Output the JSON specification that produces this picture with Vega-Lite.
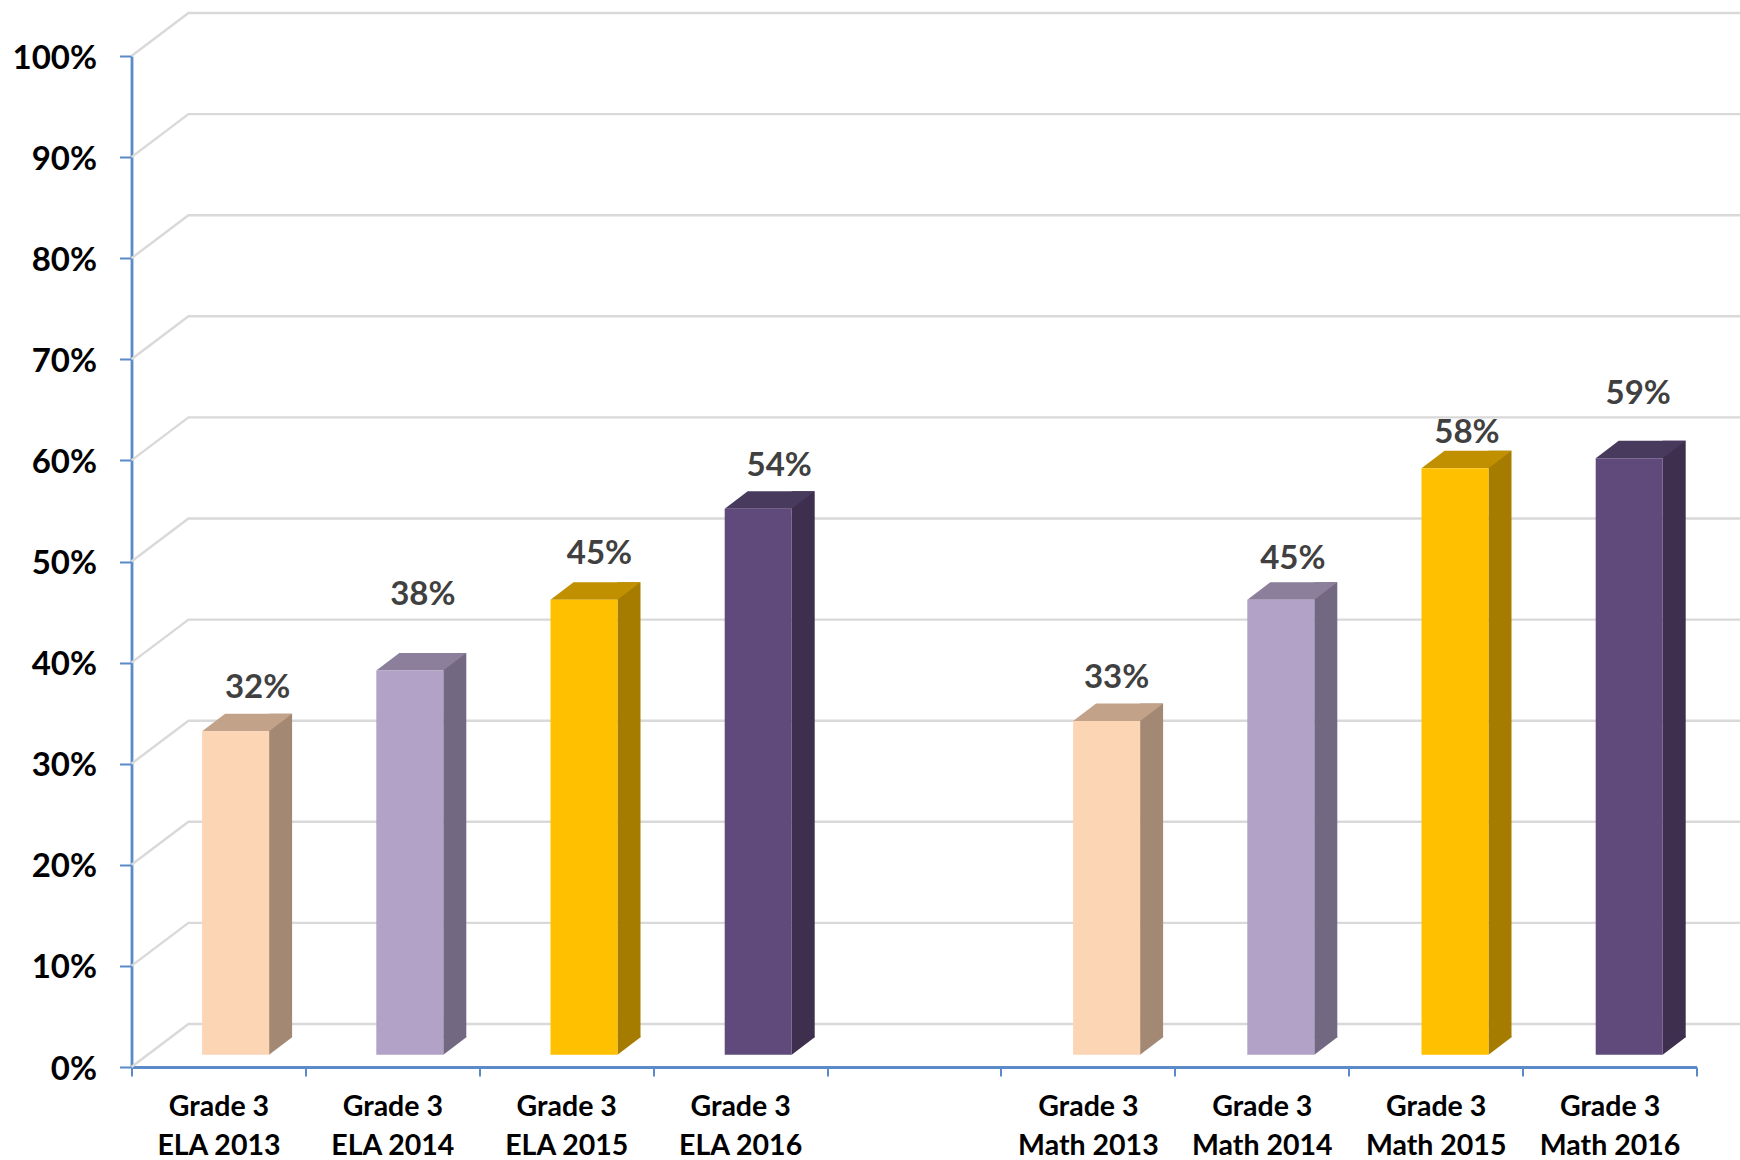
{
"$schema":"https://vega.github.io/schema/vega-lite/v6.json",
"width":1565,"height":1011,
"padding":{"left":131.5,"top":56,"right":43.5,"bottom":93},
"autosize":{"type":"none"},
"background":"white",
"config":{"view":{"stroke":null},"axis":{"labelFont":"Lato","labelFontWeight":"bold","labelColor":"#000000","labelFontSize":33,"domainColor":"#5B8AC8","tickColor":"#5B8AC8","domainWidth":2.8,"tickWidth":2,"grid":false,"title":null}},
"datasets":{
"bars":[
{"label":"Grade 3|ELA 2013","year":"2013","pct":0.32},
{"label":"Grade 3|ELA 2014","year":"2014","pct":0.38},
{"label":"Grade 3|ELA 2015","year":"2015","pct":0.45},
{"label":"Grade 3|ELA 2016","year":"2016","pct":0.54},
{"label":"Grade 3|Math 2013","year":"2013","pct":0.33},
{"label":"Grade 3|Math 2014","year":"2014","pct":0.45},
{"label":"Grade 3|Math 2015","year":"2015","pct":0.58},
{"label":"Grade 3|Math 2016","year":"2016","pct":0.59}],
"ticks":[{"t":0},{"t":0.1},{"t":0.2},{"t":0.3},{"t":0.4},{"t":0.5},{"t":0.6},{"t":0.7},{"t":0.8},{"t":0.9},{"t":1}]
},
"encoding":{
"y":{"field":"pct","type":"quantitative","scale":{"domain":[0,1],"nice":false},
"axis":{"values":[0,0.1,0.2,0.3,0.4,0.5,0.6,0.7,0.8,0.9,1],"format":".0%","tickSize":12,"labelPadding":23,"labelOffset":2}}
},
"resolve":{"scale":{"x":"independent"}},
"layer":[
{"data":{"name":"ticks"},
 "mark":{"type":"point","shape":"M0 0 L57 -43 L1608.5 -43","size":4,"filled":false,"stroke":"#D9D9D9","strokeWidth":2.4,"opacity":1,"xOffset":-87},
 "encoding":{
 "x":{"datum":"Grade 3|ELA 2013","type":"nominal","scale":{"domain":["Grade 3|ELA 2013","Grade 3|ELA 2014","Grade 3|ELA 2015","Grade 3|ELA 2016"," ","Grade 3|Math 2013","Grade 3|Math 2014","Grade 3|Math 2015","Grade 3|Math 2016"],"paddingInner":0,"paddingOuter":0},
 "axis":{"labelAngle":0,"tickBand":"extent","tickSize":9,"labelPadding":16,"labelLineHeight":39,"labelExpr":"split(datum.label,'|')","labelFontSize":28.5,"labelBaseline":"top"}},
 "y":{"field":"t","type":"quantitative"}}},
{"data":{"name":"bars"},
 "encoding":{"x":{"field":"label","type":"nominal","sort":null,"axis":null,"scale":{"domain":["Grade 3|ELA 2013","Grade 3|ELA 2014","Grade 3|ELA 2015","Grade 3|ELA 2016"," ","Grade 3|Math 2013","Grade 3|Math 2014","Grade 3|Math 2015","Grade 3|Math 2016"],"paddingInner":0,"paddingOuter":0,"range":[0,1567.8]}}},
 "resolve":{"scale":{"color":"independent"}},
 "layer":[
 {"mark":{"type":"bar","orient":"vertical","width":23,"xOffset":62,"yOffset":-29.8,"y2Offset":-29.8},
  "encoding":{"y2":{"datum":0},"color":{"field":"year","type":"nominal","legend":null,"scale":{"domain":["2013","2014","2015","2016"],"range":["#A38974","#726881","#A67C00","#3E2F4F"]}}}},
 {"mark":{"type":"point","shape":"M33.5 0 L56.5 -17.5 L56.5 -18.5 L33.5 -18.5 Z","size":4,"filled":true,"opacity":1,"xOffset":17,"yOffset":-12.3},
  "encoding":{"y":{"datum":0},"color":{"field":"year","type":"nominal","legend":null,"scale":{"domain":["2013","2014","2015","2016"],"range":["#A38974","#726881","#A67C00","#3E2F4F"]}}}},
 {"mark":{"type":"point","shape":"M-33.5 0 L33.5 0 L56.5 -17.5 L-10.5 -17.5 Z","size":4,"filled":true,"opacity":1,"xOffset":17,"yOffset":-12.3},
  "encoding":{"color":{"field":"year","type":"nominal","legend":null,"scale":{"domain":["2013","2014","2015","2016"],"range":["#C2A289","#8C7F9C","#C09000","#483A5C"]}}}},
 {"mark":{"type":"bar","orient":"vertical","width":67,"xOffset":17,"yOffset":-12.3,"y2Offset":-12.3},
  "encoding":{"y2":{"datum":0},"color":{"field":"year","type":"nominal","legend":null,"scale":{"domain":["2013","2014","2015","2016"],"range":["#FCD5B5","#B3A2C7","#FFC000","#604A7B"]}}}},
 {"transform":[{"filter":"datum.label=='Grade 3|ELA 2013'"}],
  "mark":{"type":"text","font":"Lato","fontWeight":"bold","fontSize":33,"color":"#404040","dx":39,"dy":-55},
  "encoding":{"text":{"field":"pct","format":".0%"}}},
 {"transform":[{"filter":"datum.label=='Grade 3|ELA 2014'"}],
  "mark":{"type":"text","font":"Lato","fontWeight":"bold","fontSize":33,"color":"#404040","dx":30,"dy":-88},
  "encoding":{"text":{"field":"pct","format":".0%"}}},
 {"transform":[{"filter":"datum.label=='Grade 3|ELA 2015'"}],
  "mark":{"type":"text","font":"Lato","fontWeight":"bold","fontSize":33,"color":"#404040","dx":32.5,"dy":-58},
  "encoding":{"text":{"field":"pct","format":".0%"}}},
 {"transform":[{"filter":"datum.label=='Grade 3|ELA 2016'"}],
  "mark":{"type":"text","font":"Lato","fontWeight":"bold","fontSize":33,"color":"#404040","dx":38,"dy":-55},
  "encoding":{"text":{"field":"pct","format":".0%"}}},
 {"transform":[{"filter":"datum.label=='Grade 3|Math 2013'"}],
  "mark":{"type":"text","font":"Lato","fontWeight":"bold","fontSize":33,"color":"#404040","dx":27,"dy":-55},
  "encoding":{"text":{"field":"pct","format":".0%"}}},
 {"transform":[{"filter":"datum.label=='Grade 3|Math 2014'"}],
  "mark":{"type":"text","font":"Lato","fontWeight":"bold","fontSize":33,"color":"#404040","dx":29,"dy":-53},
  "encoding":{"text":{"field":"pct","format":".0%"}}},
 {"transform":[{"filter":"datum.label=='Grade 3|Math 2015'"}],
  "mark":{"type":"text","font":"Lato","fontWeight":"bold","fontSize":33,"color":"#404040","dx":29,"dy":-48},
  "encoding":{"text":{"field":"pct","format":".0%"}}},
 {"transform":[{"filter":"datum.label=='Grade 3|Math 2016'"}],
  "mark":{"type":"text","font":"Lato","fontWeight":"bold","fontSize":33,"color":"#404040","dx":26,"dy":-77},
  "encoding":{"text":{"field":"pct","format":".0%"}}}
 ]}
]
}
